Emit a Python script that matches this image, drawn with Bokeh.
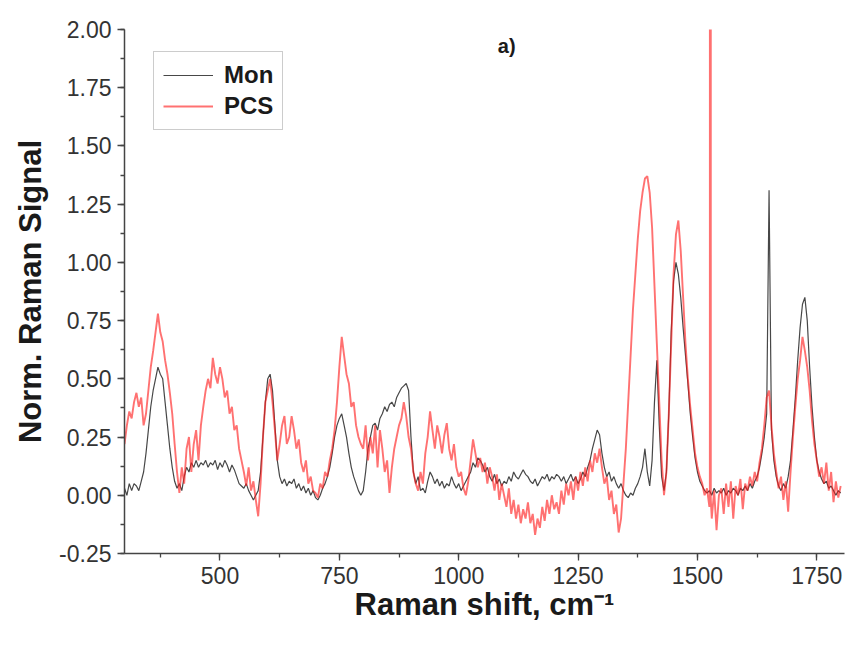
from bokeh.plotting import figure
from bokeh.models import (Range1d, SingleIntervalTicker, Legend, LegendItem, Label,
                          NumeralTickFormatter, ColumnDataSource)
from bokeh.embed import file_html
from bokeh.resources import INLINE

# Raman shift grid (cm^-1), sampled every 5 cm^-1 from 300 to 1800
wavenumber = list(range(300, 1805, 5))

# Mon spectrum, 10 values per 50 cm^-1 block
mon_signal = [
    0.03, 0.00, 0.05, 0.02, 0.05, 0.04, 0.02, 0.06, 0.10, 0.18,
    0.28, 0.38, 0.45, 0.50, 0.55, 0.52, 0.50, 0.40, 0.30, 0.20,
    0.12, 0.06, 0.03, 0.05, 0.02, 0.08, 0.12, 0.10, 0.14, 0.12,
    0.15, 0.12, 0.14, 0.13, 0.15, 0.12, 0.14, 0.13, 0.15, 0.11,
    0.14, 0.12, 0.15, 0.13, 0.10, 0.13, 0.11, 0.08, 0.05, 0.04,
    0.03, 0.05, 0.02, 0.00, -0.02, 0.00, 0.02, 0.10, 0.25, 0.40,
    0.50, 0.52, 0.45, 0.30, 0.15, 0.08, 0.05, 0.07, 0.04, 0.06,
    0.05, 0.07, 0.03, 0.05, 0.02, 0.04, 0.01, 0.03, 0.00, 0.02,
    -0.01, -0.02, 0.00, 0.03, 0.05, 0.08, 0.12, 0.18, 0.25, 0.30,
    0.33, 0.35, 0.30, 0.25, 0.18, 0.12, 0.08, 0.05, 0.02, 0.00,
    0.02, 0.10, 0.20, 0.25, 0.30, 0.31, 0.28, 0.33, 0.35, 0.38,
    0.36, 0.39, 0.40, 0.38, 0.42, 0.44, 0.46, 0.47, 0.48, 0.45,
    0.25, 0.10, 0.05, 0.08, 0.02, 0.03, 0.01, 0.06, 0.10, 0.08,
    0.05, 0.07, 0.04, 0.06, 0.03, 0.05, 0.04, 0.08, 0.05, 0.03,
    0.05, 0.02, 0.04, 0.06, 0.08, 0.10, 0.14, 0.12, 0.16, 0.15,
    0.13, 0.10, 0.12, 0.08, 0.06, 0.09, 0.05, 0.07, 0.04, 0.06,
    0.05, 0.08, 0.06, 0.10, 0.08, 0.07, 0.09, 0.11, 0.09, 0.08,
    0.06, 0.05, 0.07, 0.04, 0.06, 0.08, 0.07, 0.09, 0.06, 0.08,
    0.07, 0.09, 0.08, 0.06, 0.08, 0.05, 0.07, 0.09, 0.06, 0.08,
    0.05, 0.07, 0.10, 0.08, 0.12, 0.15, 0.20, 0.24, 0.28, 0.26,
    0.18, 0.12, 0.08, 0.10, 0.06, 0.08, 0.05, 0.03, 0.05, 0.02,
    0.00, -0.01, 0.01, 0.00, 0.03, 0.05, 0.08, 0.12, 0.20, 0.10,
    0.04, 0.15, 0.40, 0.58, 0.30, 0.08, 0.02, 0.10, 0.35, 0.70,
    0.92, 1.00, 0.95, 0.85, 0.72, 0.60, 0.48, 0.35, 0.25, 0.16,
    0.10, 0.06, 0.04, 0.02, 0.01, 0.02, 0.00, 0.03, 0.01, 0.02,
    0.01, 0.03, 0.00, 0.02, 0.01, 0.03, 0.02, 0.00, 0.03, 0.02,
    0.04, 0.02, 0.05, 0.03, 0.06, 0.08, 0.12, 0.18, 0.25, 0.35,
    1.31, 0.28, 0.15, 0.08, 0.04, 0.02, 0.05, 0.03, 0.08, 0.15,
    0.28, 0.42, 0.58, 0.72, 0.82, 0.85, 0.75, 0.55, 0.38, 0.25,
    0.15, 0.10, 0.07, 0.05, 0.06, 0.03, 0.04, 0.02, 0.00, 0.02,
    0.01,
]

# PCS spectrum, 10 values per 50 cm^-1 block
pcs_signal = [
    0.22, 0.30, 0.36, 0.33, 0.40, 0.44, 0.38, 0.42, 0.30, 0.35,
    0.45, 0.55, 0.62, 0.70, 0.78, 0.70, 0.66, 0.58, 0.52, 0.44,
    0.35, 0.22, 0.10, 0.01, 0.12, 0.05, 0.20, 0.25, 0.10, 0.22,
    0.28, 0.15, 0.30, 0.38, 0.45, 0.50, 0.46, 0.59, 0.52, 0.48,
    0.55, 0.50, 0.42, 0.45, 0.35, 0.38, 0.28, 0.30, 0.20, 0.15,
    0.10, 0.04, 0.12, 0.02, 0.06, -0.02, -0.09, 0.05, 0.25, 0.40,
    0.45, 0.50, 0.40, 0.28, 0.15, 0.22, 0.30, 0.34, 0.22, 0.25,
    0.34, 0.28, 0.20, 0.24, 0.14, 0.10, 0.15, 0.05, 0.08, 0.02,
    0.01, -0.01, 0.05, 0.03, 0.10, 0.08, 0.15, 0.20, 0.28, 0.40,
    0.55, 0.68, 0.60, 0.52, 0.48, 0.38, 0.40, 0.30, 0.25, 0.22,
    0.20, 0.30, 0.15, 0.25, 0.18, 0.30, 0.12, 0.28, 0.20, 0.10,
    0.15, 0.01, 0.12, 0.20, 0.25, 0.30, 0.33, 0.40, 0.34, 0.25,
    0.20, 0.10, 0.05, 0.02, 0.10, 0.05, 0.18, 0.25, 0.36, 0.28,
    0.20, 0.30, 0.25, 0.18, 0.26, 0.31, 0.20, 0.15, 0.22, 0.12,
    0.08, 0.10, 0.03, 0.00, 0.06, 0.15, 0.24, 0.18, 0.12, 0.16,
    0.10, 0.14, 0.05, 0.12, 0.08, 0.02, 0.09, -0.02, 0.05, 0.00,
    -0.05, 0.03, -0.08, -0.02, -0.10, -0.04, -0.12, -0.06, -0.10, -0.03,
    -0.12, -0.08, -0.17, -0.10, -0.14, -0.05, -0.11, -0.02, -0.08, 0.00,
    -0.06, -0.03, -0.08, 0.02, -0.04, 0.05, 0.00, 0.06, -0.02, 0.08,
    0.02, 0.10, 0.04, 0.12, 0.06, 0.15, 0.10, 0.18, 0.14, 0.20,
    0.12, 0.05, 0.08, -0.02, 0.02, -0.08, -0.04, -0.16, -0.10, 0.05,
    0.20, 0.40, 0.60, 0.80, 0.95, 1.10, 1.22, 1.30, 1.36, 1.37,
    1.30, 1.15, 0.90, 0.65, 0.40, 0.15, 0.00, 0.10, 0.35, 0.65,
    0.95, 1.12, 1.18, 1.05, 0.85, 0.65, 0.50, 0.38, 0.28, 0.18,
    0.12, 0.08, 0.05, 0.00, 0.03, -0.05, -0.10, 0.02, -0.15, 0.00,
    0.03, -0.08, 0.05, -0.05, 0.06, -0.10, 0.04, 0.00, 0.07, -0.06,
    0.05, 0.02, 0.08, 0.04, 0.10, 0.06, 0.14, 0.20, 0.30, 0.42,
    0.45, 0.30, 0.18, 0.10, 0.03, 0.08, -0.02, 0.06, -0.07, 0.10,
    0.25, 0.38, 0.50, 0.58, 0.68, 0.62, 0.55, 0.45, 0.32, 0.22,
    0.15, 0.08, 0.12, 0.05, 0.14, 0.02, 0.10, -0.03, 0.06, -0.01,
    0.04,
]

# narrow spike in the PCS spectrum (goes off the top of the chart)
pcs_spike_x = [1526, 1527, 1528]
pcs_spike_y = [-0.02, 40.0, -0.02]

x_ticks_interval = 250
y_ticks_interval = 0.25

assert len(mon_signal) == len(wavenumber)
assert len(pcs_signal) == len(wavenumber)

pcs_pairs = sorted(list(zip(wavenumber, pcs_signal)) + list(zip(pcs_spike_x, pcs_spike_y)))
mon_src = ColumnDataSource(dict(x=wavenumber, y=mon_signal))
pcs_src = ColumnDataSource(dict(x=[a for a, b in pcs_pairs], y=[b for a, b in pcs_pairs]))

FONT = "Liberation Sans"

p = figure(width=854, height=652, output_backend="svg", toolbar_location=None,
           x_range=Range1d(300, 1808), y_range=Range1d(-0.25, 2.0),
           min_border_left=124, min_border_right=10, min_border_top=29,
           min_border_bottom=99, background_fill_color="white",
           border_fill_color="white")
p.outline_line_color = None
p.xgrid.visible = False
p.ygrid.visible = False

r_mon = p.line("x", "y", source=mon_src, line_color="#333333", line_width=1.2, line_alpha=0.9)
r_pcs = p.line("x", "y", source=pcs_src, line_color="#ff1a1a", line_width=1.9, line_alpha=0.62)

for ax in (p.xaxis[0], p.yaxis[0]):
    ax.axis_line_color = "#444444"
    ax.axis_line_width = 1.5
    ax.major_tick_line_color = "#444444"
    ax.minor_tick_line_color = "#444444"
    ax.major_tick_line_width = 1.3
    ax.minor_tick_line_width = 1.3
    ax.major_tick_out = 7
    ax.major_tick_in = 0
    ax.minor_tick_out = 4
    ax.minor_tick_in = 0
    ax.major_label_text_font = FONT
    ax.major_label_text_font_size = "23px"
    ax.major_label_text_color = "#333333"
    ax.axis_label_text_font = FONT
    ax.axis_label_text_font_size = "31px"
    ax.axis_label_text_font_style = "bold"
    ax.axis_label_text_color = "#1a1a1a"

p.xaxis[0].ticker = SingleIntervalTicker(interval=x_ticks_interval, num_minor_ticks=2)
p.yaxis[0].ticker = SingleIntervalTicker(interval=y_ticks_interval, num_minor_ticks=2)
p.yaxis[0].formatter = NumeralTickFormatter(format="0.00")
p.xaxis[0].axis_label = "Raman shift, cm\u207b\u00b9"
p.yaxis[0].axis_label = "Norm. Raman Signal"
p.xaxis[0].major_label_standoff = 6
p.yaxis[0].major_label_standoff = 6
p.xaxis[0].axis_label_standoff = 0
p.yaxis[0].axis_label_standoff = 8

legend = Legend(items=[LegendItem(label="Mon", renderers=[r_mon]),
                       LegendItem(label="PCS", renderers=[r_pcs])],
                location=(29, 423), orientation="vertical")
legend.label_text_font = FONT
legend.label_text_font_size = "24px"
legend.label_text_font_style = "bold"
legend.label_text_color = "#1a1a1a"
legend.glyph_width = 50
legend.glyph_height = 24
legend.label_standoff = 11
legend.spacing = 3
legend.padding = 9
legend.margin = 0
legend.border_line_color = "#999999"
legend.border_line_width = 1
legend.background_fill_alpha = 1.0
p.add_layout(legend)

p.add_layout(Label(x=1082, y=1.88, text="a)", text_font=FONT, text_font_size="20px",
                   text_font_style="bold", text_color="#1a1a1a"))

open("out.html", "w").write(file_html(p, INLINE))
